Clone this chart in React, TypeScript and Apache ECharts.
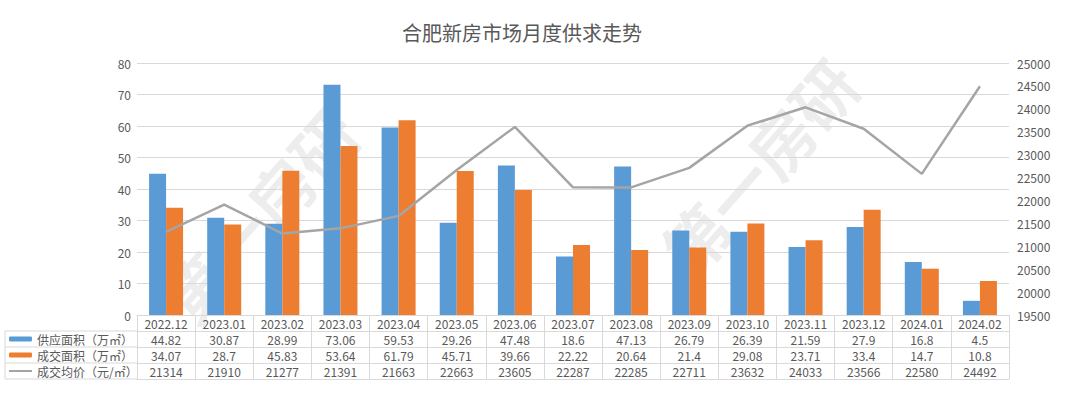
import React, { useEffect, useRef } from "react";
import * as echarts from "echarts";

const categories = ["2022.12","2023.01","2023.02","2023.03","2023.04","2023.05","2023.06","2023.07","2023.08","2023.09","2023.10","2023.11","2023.12","2024.01","2024.02"];
const supply = [44.82,30.87,28.99,73.06,59.53,29.26,47.48,18.6,47.13,26.79,26.39,21.59,27.9,16.8,4.5];
const deal = [34.07,28.7,45.83,53.64,61.79,45.71,39.66,22.22,20.64,21.4,29.08,23.71,33.4,14.7,10.8];
const price = [21314,21910,21277,21391,21663,22663,23605,22287,22285,22711,23632,24033,23566,22580,24492];
const seriesNames = ["供应面积（万㎡）", "成交面积（万㎡）", "成交均价（元/㎡）"];
const title = "合肥新房市场月度供求走势";

const TXT = "#595959";
const LINE = "#D9D9D9";
const FONT = "'Noto Sans CJK SC', 'Noto Sans', sans-serif";

export default function App() {
  const ref = useRef<HTMLDivElement>(null);
  useEffect(() => {
    const chart = echarts.init(ref.current!, null, { renderer: "svg" });
    const rowAxis = (vals: (string | number)[], offset: number, showTick = true) => ({
      type: "category",
      gridIndex: 0,
      position: "bottom",
      offset,
      data: vals.map(String),
      axisLine: { show: true, lineStyle: { color: LINE, width: 1 } },
      axisTick: { show: showTick, length: 16, lineStyle: { color: LINE } },
      axisLabel: { show: showTick, interval: 0, margin: 2, color: TXT, fontSize: 12, fontFamily: FONT },
      splitLine: { show: false },
    });
    const hline = (y: number) => ({
      type: "line",
      shape: { x1: 5, y1: y, x2: 137, y2: y },
      style: { stroke: LINE, lineWidth: 1 },
      silent: true,
    });
    const wm = (txt: string, x: number, y: number) => ({
      type: "text",
      x, y,
      rotation: 0.85,
      z: -10,
      silent: true,
      style: { text: txt, fill: "rgba(0,0,0,0.07)", fontSize: 64, fontWeight: "bold", fontFamily: FONT },
    });
    const legendText = { color: TXT, fontSize: 12, fontFamily: FONT };
    chart.setOption({
      animation: false,
      textStyle: { fontFamily: FONT },
      title: {
        text: title,
        left: 402,
        top: 22,
        padding: 0,
        textStyle: { color: TXT, fontSize: 20, fontWeight: "normal", fontFamily: FONT },
      },
      grid: { left: 137, right: 71, top: 63, bottom: 79, containLabel: false },
      legend: [
        { data: [seriesNames[0]], left: 9, top: 333, padding: 0, itemWidth: 23, itemHeight: 5, itemGap: 6, textStyle: legendText },
        { data: [seriesNames[1]], left: 9, top: 349, padding: 0, itemWidth: 23, itemHeight: 5, itemGap: 6, textStyle: legendText },
        { data: [{ name: seriesNames[2], icon: "rect" }], left: 9, top: 365, padding: 0, itemWidth: 23, itemHeight: 2, itemGap: 6, textStyle: legendText },
      ],
      xAxis: [
        {
          type: "category",
          data: categories,
          position: "bottom",
          axisLine: { show: true, lineStyle: { color: LINE } },
          axisTick: { show: true, length: 16, lineStyle: { color: LINE } },
          axisLabel: { interval: 0, margin: 2, color: TXT, fontSize: 12, fontFamily: FONT },
        },
        rowAxis(supply, 16),
        rowAxis(deal, 32),
        rowAxis(price, 48),
        rowAxis(categories, 64, false),
      ],
      yAxis: [
        {
          type: "value",
          min: 0, max: 80, interval: 10,
          axisLine: { show: false }, axisTick: { show: false },
          axisLabel: { color: TXT, fontSize: 12, margin: 6, fontFamily: FONT },
          splitLine: { lineStyle: { color: LINE } },
        },
        {
          type: "value",
          min: 19500, max: 25000, interval: 500,
          position: "right",
          axisLine: { show: false }, axisTick: { show: false },
          axisLabel: { color: TXT, fontSize: 12, margin: 8, fontFamily: FONT, formatter: (v: number) => String(v) },
          splitLine: { show: false },
        },
      ],
      graphic: [
        wm("第一房研", 150, 290),
        wm("第一房研", 650, 240),
        hline(331), hline(347), hline(363), hline(379),
        { type: "line", shape: { x1: 5, y1: 331, x2: 5, y2: 379 }, style: { stroke: LINE, lineWidth: 1 }, silent: true },
      ],
      series: [
        { name: seriesNames[0], type: "bar", data: supply, barWidth: 17, barGap: "0%", itemStyle: { color: "#5B9BD5" } },
        { name: seriesNames[1], type: "bar", data: deal, barWidth: 17, barGap: "0%", itemStyle: { color: "#ED7D31" } },
        { name: seriesNames[2], type: "line", yAxisIndex: 1, data: price, symbol: "none", lineStyle: { color: "#A5A5A5", width: 2.5 }, itemStyle: { color: "#A5A5A5" } },
      ],
    });
    return () => chart.dispose();
  }, []);
  return <div ref={ref} style={{ width: 1080, height: 394, position: "absolute", left: 0, top: 0 }} />;
}
